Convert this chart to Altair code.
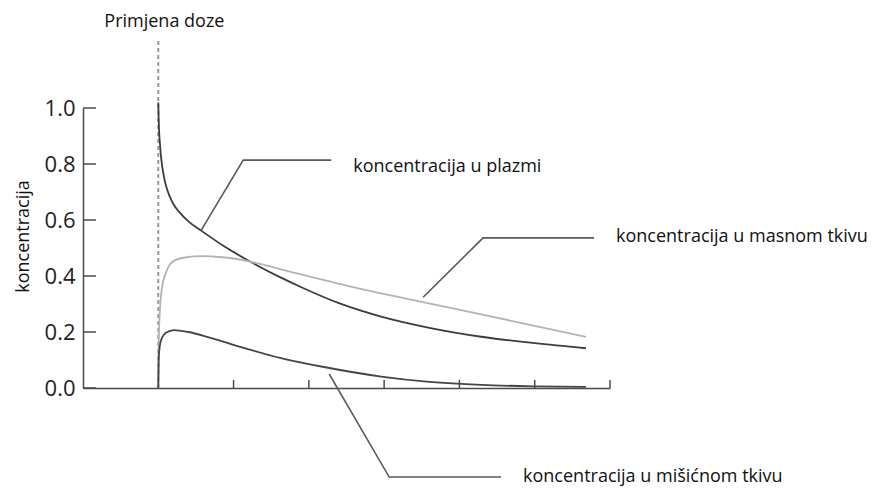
import altair as alt
import pandas as pd

# ---- curve readings (time in dosing units, concentration relative) ----
plasma_t = [0.00, 0.005, 0.01, 0.02, 0.035, 0.05, 0.075, 0.10, 0.15, 0.20, 0.28, 0.40, 0.57, 0.88, 1.23, 1.63, 1.90, 2.40, 2.96, 3.60, 4.29, 5.00, 5.68]
plasma_c = [1.02, 0.96, 0.92, 0.88, 0.83, 0.795, 0.755, 0.725, 0.685, 0.657, 0.628, 0.595, 0.562, 0.505, 0.450, 0.394, 0.360, 0.303, 0.255, 0.215, 0.183, 0.160, 0.142]

fat_t = [0.00, 0.005, 0.02, 0.05, 0.10, 0.21, 0.40, 0.57, 0.85, 1.10, 1.35, 1.63, 2.50, 3.53, 4.29, 5.00, 5.68]
fat_c = [0.00, 0.15, 0.27, 0.36, 0.41, 0.455, 0.468, 0.471, 0.467, 0.458, 0.443, 0.424, 0.366, 0.306, 0.263, 0.222, 0.183]

muscle_t = [0.00, 0.005, 0.02, 0.05, 0.10, 0.21, 0.40, 0.66, 1.10, 1.63, 2.20, 2.96, 3.60, 4.29, 5.00, 5.68]
muscle_c = [0.00, 0.10, 0.15, 0.18, 0.197, 0.207, 0.200, 0.182, 0.146, 0.107, 0.075, 0.041, 0.022, 0.011, 0.006, 0.004]

series_names = ["plazma", "masno tkivo", "mišićno tkivo"]
series_colors = ["#3c3c3c", "#b3b3b3", "#454545"]

y_ticks = [0.0, 0.2, 0.4, 0.6, 0.8, 1.0]
x_ticks = [1, 2, 3, 4, 5, 6]

# ---- annotations ----
dose_label = "Primjena doze"
dose_t = 0.0
dose_top = 1.243

label_text = ["koncentracija u plazmi", "koncentracija u masnom tkivu", "koncentracija u mišićnom tkivu"]
label_t = [2.589, 6.080, 4.845]
label_c = [0.771, 0.522, -0.336]

leader_plasma_t = [0.571, 1.128, 2.297]
leader_plasma_c = [0.564, 0.814, 0.814]
leader_fat_t = [3.518, 4.314, 5.788]
leader_fat_c = [0.324, 0.536, 0.536]
leader_muscle_t = [2.270, 3.067, 4.553]
leader_muscle_c = [0.050, -0.318, -0.318]

# ---- tables ----
rows = []
for name, ts, cs in zip(series_names, [plasma_t, fat_t, muscle_t], [plasma_c, fat_c, muscle_c]):
    for i, (t, c) in enumerate(zip(ts, cs)):
        rows.append({"series": name, "t": t, "c": c, "i": i})
curves_df = pd.DataFrame(rows)

lrows = []
for k, (ts, cs) in enumerate([(leader_plasma_t, leader_plasma_c), (leader_fat_t, leader_fat_c), (leader_muscle_t, leader_muscle_c)]):
    for i, (t, c) in enumerate(zip(ts, cs)):
        lrows.append({"leader": k, "t": t, "c": c, "i": i})
leaders_df = pd.DataFrame(lrows)

labels_df = pd.DataFrame({"text": label_text, "t": label_t, "c": label_c})
ytick_df = pd.DataFrame({"c": y_ticks, "t": [-1.0] * len(y_ticks), "t2": [-1.0 + 0.173] * len(y_ticks)})
xtick_df = pd.DataFrame({"t": x_ticks, "c": [0.0] * len(x_ticks), "c2": [0.029] * len(x_ticks)})
dose_df = pd.DataFrame({"t": [dose_t], "c": [0.0], "c2": [dose_top]})
dose_label_df = pd.DataFrame({"text": [dose_label], "t": [-0.717], "c": [1.290]})

FONT = "Open Sans"
xs = alt.Scale(domain=[-1, 6], nice=False, zero=False)
ys = alt.Scale(domain=[0, 1], nice=False, zero=False)
x_axis = alt.Axis(title=None, labels=False, ticks=False, grid=False,
                  domainColor="#4a4a4a", domainWidth=1.5)
y_axis = alt.Axis(title="koncentracija", values=y_ticks, format=".1f", ticks=False, grid=False,
                  labelPadding=8, labelFontSize=22, labelFont=FONT, labelColor="#222222",
                  domainColor="#4a4a4a", domainWidth=1.5,
                  titleFont=FONT, titleFontSize=18, titleFontWeight="normal", titleColor="#111111",
                  titleX=-60, titleY=128, titleAngle=270, titleAlign="center", titleBaseline="middle")

def X(field="t"):
    return alt.X(f"{field}:Q", scale=xs, axis=x_axis)

def Y(field="c"):
    return alt.Y(f"{field}:Q", scale=ys, axis=y_axis)

curves = alt.Chart(curves_df).mark_line(interpolate="monotone", strokeWidth=1.8).encode(
    x=X(), y=Y(),
    color=alt.Color("series:N", scale=alt.Scale(domain=series_names, range=series_colors), legend=None),
    order="i:Q",
)

dose_rule = alt.Chart(dose_df).mark_rule(color="#9a9a9a", strokeWidth=2, strokeDash=[4, 3]).encode(
    x=X(), y=Y(), y2="c2:Q")

dose_text = alt.Chart(dose_label_df).mark_text(align="left", baseline="alphabetic", font=FONT,
                                               fontSize=18, color="#111111").encode(
    x=X(), y=Y(), text="text:N")

yticks = alt.Chart(ytick_df).mark_rule(color="#4a4a4a", strokeWidth=1.5).encode(
    x=X(), x2="t2:Q", y=Y())
xticks = alt.Chart(xtick_df).mark_rule(color="#4a4a4a", strokeWidth=1.5).encode(
    x=X(), y=Y(), y2="c2:Q")

leaders = alt.Chart(leaders_df).mark_line(color="#5a5a5a", strokeWidth=1.6).encode(
    x=X(), y=Y(), detail="leader:N", order="i:Q")

labels = alt.Chart(labels_df).mark_text(align="left", baseline="alphabetic", font=FONT,
                                        fontSize=18, color="#111111").encode(
    x=X(), y=Y(), text="text:N")

chart = alt.layer(dose_rule, curves, xticks, yticks, leaders, labels, dose_text).properties(
    width=527, height=280,
    autosize=alt.AutoSizeParams(type="none"),
    padding={"left": 75, "top": 100, "right": 259, "bottom": 99},
    background="white",
).configure_view(stroke=None)

chart.save("out.html", embed_options={"renderer": "svg", "actions": False})
